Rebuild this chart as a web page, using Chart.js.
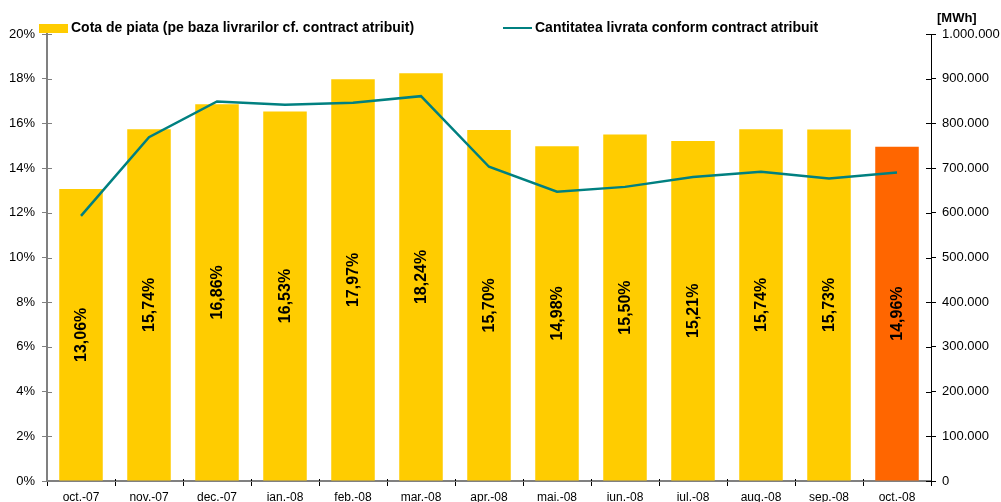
<!DOCTYPE html>
<html>
<head>
<meta charset="utf-8">
<script src="https://cdn.jsdelivr.net/npm/chart.js@4"></script>
<style>
  html, body { margin: 0; padding: 0; background: #fff; }
  #wrap { width: 1001px; height: 502px; position: relative; }
</style>
</head>
<body>
<div id="wrap"><canvas id="c" width="1001" height="502"></canvas></div>
<script>
const categories = ["oct.-07","nov.-07","dec.-07","ian.-08","feb.-08","mar.-08","apr.-08","mai.-08","iun.-08","iul.-08","aug.-08","sep.-08","oct.-08"];
const marketShare = [13.06, 15.74, 16.86, 16.53, 17.97, 18.24, 15.70, 14.98, 15.50, 15.21, 15.74, 15.73, 14.96];
const deliveredMWh = [593000, 769000, 849000, 842000, 846000, 861000, 703000, 647000, 658000, 680000, 692000, 677000, 690000];
const barLabel = "Cota de piata (pe baza livrarilor cf. contract atribuit)";
const lineLabel = "Cantitatea livrata conform contract atribuit";
const rightUnit = "[MWh]";
const leftTicks = [0, 2, 4, 6, 8, 10, 12, 14, 16, 18, 20];
const rightTicks = [0, 100000, 200000, 300000, 400000, 500000, 600000, 700000, 800000, 900000, 1000000];

const YELLOW = "#FFCC00", ORANGE = "#FF6600", TEAL = "#008080";
const FONT = "'Liberation Sans', Arial, sans-serif";

function fmtThousands(v) {
  return String(Math.round(v)).replace(/\B(?=(\d{3})+(?!\d))/g, ".");
}

const barColors = marketShare.map((v, i) => i === marketShare.length - 1 ? ORANGE : YELLOW);

const extras = {
  id: "extras",
  afterDatasetsDraw(chart) {
    const ctx = chart.ctx;
    const meta = chart.getDatasetMeta(1);
    ctx.save();
    ctx.fillStyle = "#000";
    ctx.font = "bold 16px " + FONT;
    ctx.textAlign = "center";
    ctx.textBaseline = "middle";
    meta.data.forEach((bar, i) => {
      const v = chart.data.datasets[1].data[i];
      const cy = (bar.y + bar.base) / 2;
      ctx.save();
      ctx.translate(bar.x, cy);
      ctx.rotate(-Math.PI / 2);
      ctx.fillText(v.toFixed(2).replace(".", ",") + "%", 0, 1);
      ctx.restore();
    });
    ctx.restore();
  },
  afterDraw(chart) {
    const ctx = chart.ctx;
    const ca = chart.chartArea;
    ctx.save();
    // inward tick marks on axes
    const yL = chart.scales.y, yR = chart.scales.y1, xS = chart.scales.x;
    ctx.strokeStyle = "#808080";
    ctx.lineWidth = 1;
    yL.ticks.forEach((t, i) => {
      const py = Math.round(yL.getPixelForTick(i)) + 0.5;
      ctx.beginPath(); ctx.moveTo(ca.left, py); ctx.lineTo(ca.left + 5, py); ctx.stroke();
    });
    ctx.strokeStyle = "#000";
    yR.ticks.forEach((t, i) => {
      const py = Math.round(yR.getPixelForTick(i)) + 0.5;
      ctx.beginPath(); ctx.moveTo(ca.right - 5, py); ctx.lineTo(ca.right, py); ctx.stroke();
    });
    const n = xS.ticks.length;
    for (let i = 1; i < n; i++) {
      const px = Math.round((xS.getPixelForTick(i - 1) + xS.getPixelForTick(i)) / 2) + 0.5;
      ctx.beginPath(); ctx.moveTo(px, ca.bottom - 2); ctx.lineTo(px, ca.bottom); ctx.stroke();
    }
    // legend
    ctx.font = "bold 14px " + FONT;
    ctx.textBaseline = "middle";
    ctx.textAlign = "left";
    ctx.fillStyle = YELLOW;
    ctx.fillRect(39, 24, 29, 9);
    ctx.fillStyle = "#000";
    ctx.fillText(chart.data.datasets[1].label, 71, 28.5);
    ctx.strokeStyle = TEAL;
    ctx.lineWidth = 2;
    ctx.beginPath(); ctx.moveTo(503, 28); ctx.lineTo(532, 28); ctx.stroke();
    ctx.fillText(chart.data.datasets[0].label, 535, 28.5);
    // unit
    ctx.font = "bold 13px " + FONT;
    ctx.fillText(rightUnit, 937, 18);
    ctx.restore();
  }
};

new Chart(document.getElementById("c"), {
  type: "bar",
  data: {
    labels: categories,
    datasets: [
      {
        type: "line",
        label: lineLabel,
        data: deliveredMWh,
        yAxisID: "y1",
        borderColor: TEAL,
        borderWidth: 2.5,
        pointRadius: 0,
        tension: 0,
        fill: false,
        order: 0
      },
      {
        type: "bar",
        label: barLabel,
        data: marketShare,
        yAxisID: "y",
        backgroundColor: barColors,
        borderWidth: 0,
        categoryPercentage: 1.0,
        barPercentage: 0.64,
        order: 1
      }
    ]
  },
  plugins: [extras],
  options: {
    responsive: false,
    animation: false,
    layout: { padding: { top: 34, left: 0, right: 0, bottom: 0 } },
    plugins: { legend: { display: false }, tooltip: { enabled: false } },
    scales: {
      x: {
        type: "category",
        afterFit(s) { s.height = 21; },
        grid: { offset: true, drawOnChartArea: false, tickLength: 5, color: "#000", tickWidth: 1 },
        border: { display: true, color: "#808080", width: 2 },
        ticks: { color: "#000", font: { family: FONT, size: 12 }, padding: 4, maxRotation: 0, autoSkip: false }
      },
      y: {
        position: "left",
        min: 0, max: 20,
        afterFit(s) { s.width = 47; },
        afterBuildTicks(s) { s.ticks = leftTicks.map(v => ({ value: v })); },
        grid: { drawOnChartArea: false, tickLength: 5, color: "#808080", tickWidth: 1 },
        border: { display: true, color: "#808080", width: 2 },
        ticks: { color: "#000", font: { family: FONT, size: 13 }, padding: 7, callback: v => v + "%" }
      },
      y1: {
        position: "right",
        min: 0, max: 1000000,
        afterFit(s) { s.width = 70; },
        afterBuildTicks(s) { s.ticks = rightTicks.map(v => ({ value: v })); },
        grid: { drawOnChartArea: false, tickLength: 5, color: "#000", tickWidth: 1 },
        border: { display: true, color: "#000", width: 1 },
        ticks: { color: "#000", font: { family: FONT, size: 13 }, padding: 6, callback: v => fmtThousands(v) }
      }
    }
  }
});
</script>
</body>
</html>
